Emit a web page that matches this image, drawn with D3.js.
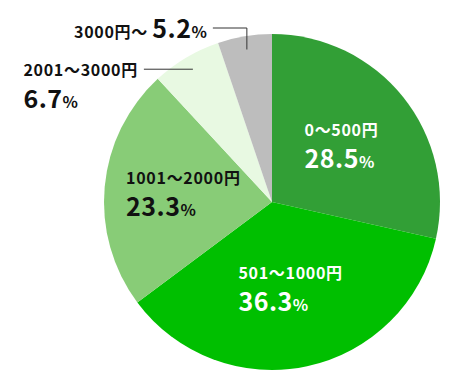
<!DOCTYPE html>
<html>
<head>
<meta charset="utf-8">
<script src="https://cdn.jsdelivr.net/npm/d3@7"></script>
<style>
  body { margin: 0; background: #fff; }
  text { font-family: "Noto Sans CJK JP", "Noto Sans", sans-serif; font-weight: bold; }
</style>
</head>
<body>
<svg id="chart" width="456" height="381"></svg>
<script>
// price bands and their shares (%)
const categories = ["0～500円", "501～1000円", "1001～2000円", "2001～3000円", "3000円～"];
const values = [28.5, 36.3, 23.3, 6.7, 5.2];
const colors = ["#329f36", "#00bf00", "#88cc77", "#e8f9e2", "#bdbdbd"];
const textColors = ["#fff", "#fff", "#111", "#111", "#111"];

const width = 456, height = 381;
const cx = 272, cy = 202, radius = 168;
const catSize = 16, numSize = 25, pctSize = 16;

const svg = d3.select("#chart");
const g = svg.append("g").attr("transform", `translate(${cx},${cy})`);

const data = categories.map((c, i) => ({ cat: c, value: values[i], i: i }));

const pie = d3.pie().sort(null).value(d => d.value);
const arcs = pie(data);

const arc = d3.arc().innerRadius(0).outerRadius(radius);
const labelArc = d3.arc().innerRadius(radius * 0.53).outerRadius(radius * 0.53);
const tipArc = d3.arc().innerRadius(radius * 0.92).outerRadius(radius * 0.92);

g.selectAll("path.slice")
    .data(arcs)
    .enter()
    .append("path")
    .attr("class", "slice")
    .attr("d", arc)
    .attr("fill", d => colors[d.data.i]);

function addNumber(sel, v) {
    sel.append("tspan").attr("font-size", numSize).attr("letter-spacing", 0.5).text(v.toFixed(1));
    sel.append("tspan").attr("font-size", pctSize).text("%");
}

// big slices: label inside
arcs.filter(d => d.data.value > 10).forEach(function(d) {
    const [x, y] = labelArc.centroid(d);
    const t = g.append("text")
        .attr("fill", textColors[d.data.i]);
    t.append("tspan")
        .attr("x", 0).attr("y", y - 10)
        .attr("font-size", catSize)
        .attr("letter-spacing", 0.7)
        .text(d.data.cat);
    const t2 = t.append("tspan")
        .attr("x", 0).attr("y", y + 22);
    addNumber(t2, d.data.value);
    const w = t.node().getBBox().width;
    t.selectAll(":scope > tspan").attr("x", x - w / 2);
});

// small slices: label outside with leader line
const small = arcs.filter(d => d.data.value <= 10);

// 2001～3000円
(function(d) {
    const [x, y] = tipArc.centroid(d);
    const x0 = x - 49;
    g.append("line")
        .attr("x1", x0).attr("y1", y).attr("x2", x).attr("y2", y)
        .attr("stroke", "#333").attr("stroke-width", 1);
    const l1 = g.append("text")
        .attr("fill", textColors[d.data.i])
        .attr("font-size", catSize)
        .attr("letter-spacing", 0.7)
        .attr("text-anchor", "end")
        .attr("x", x0 - 6).attr("y", y + 7)
        .text(d.data.cat);
    const bx = l1.node().getBBox().x;
    const l2 = g.append("text")
        .attr("fill", textColors[d.data.i])
        .attr("x", bx).attr("y", y + 39);
    addNumber(l2, d.data.value);
})(small[0]);

// 3000円～
(function(d) {
    const [x, y] = tipArc.centroid(d);
    const ly = -radius - 6;
    const x0 = x - 34;
    g.append("path")
        .attr("d", `M${x},${y}V${ly}H${x0}`)
        .attr("fill", "none")
        .attr("stroke", "#333").attr("stroke-width", 1);
    const t = g.append("text")
        .attr("fill", textColors[d.data.i])
        .attr("text-anchor", "end")
        .attr("x", x0 - 6).attr("y", ly + 10);
    t.append("tspan").attr("font-size", catSize).attr("letter-spacing", 0.7).text(d.data.cat + " ");
    addNumber(t, d.data.value);
})(small[1]);
</script>
</body>
</html>
